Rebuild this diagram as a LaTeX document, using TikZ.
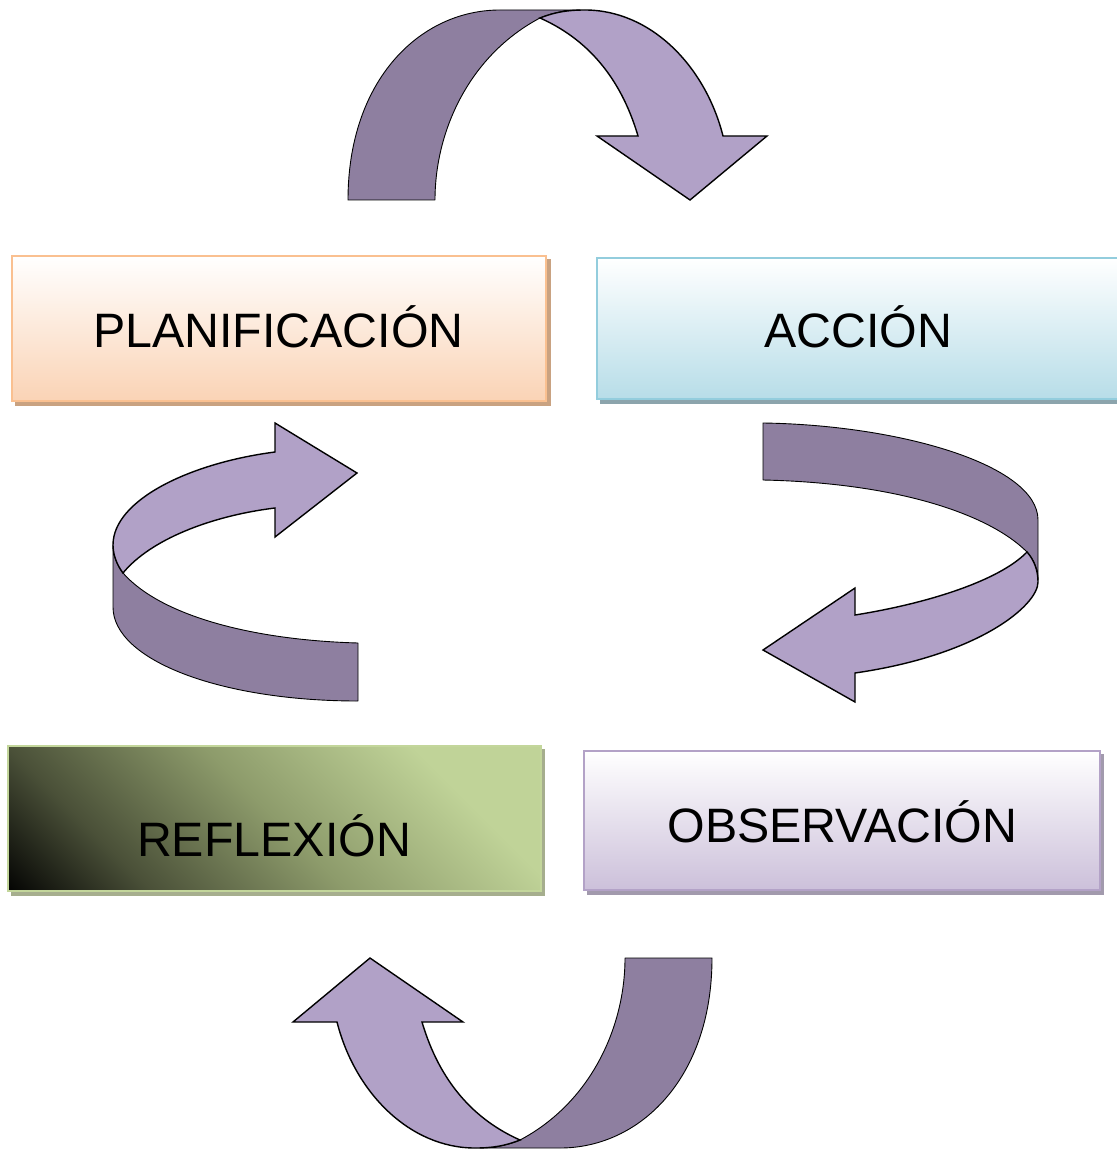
\documentclass[tikz,border=0pt]{standalone}
\usepackage{fontspec}
\setmainfont{Liberation Sans}
\definecolor{arrdark}{HTML}{8E7FA0}
\definecolor{arrlight}{HTML}{B1A1C7}
\definecolor{plborder}{HTML}{FAC090}
\definecolor{plfill}{HTML}{FAD3B5}
\definecolor{plshadow}{HTML}{C9A281}
\definecolor{acborder}{HTML}{93CDDD}
\definecolor{acfill}{HTML}{B7DDE8}
\definecolor{acshadow}{HTML}{8CA4AC}
\definecolor{obborder}{HTML}{B3A2C7}
\definecolor{obfill}{HTML}{CCC0DA}
\definecolor{obshadow}{HTML}{A29AAD}
\definecolor{rfborder}{HTML}{C3D69B}
\definecolor{rfA}{HTML}{4A5038}
\definecolor{rfB}{HTML}{8D9B6B}
\definecolor{rfC}{HTML}{C0D398}
\definecolor{rfshadow}{HTML}{A6AE8E}
\pgfdeclareverticalshading{reflexshade}{100bp}{color(0bp)=(black); color(27bp)=(black); color(37bp)=(rfA); color(50bp)=(rfB); color(64bp)=(rfC); color(100bp)=(rfC)}
\tikzset{
  darkband/.style={fill=arrdark, draw=black, line width=0.9pt, line join=round},
  lightband/.style={fill=arrlight, draw=black, line width=1.4pt, line join=miter},
  boxbase/.style={rectangle, inner sep=0pt, line width=2pt},
  lbl/.style={font=\fontsize{48.3pt}{58pt}\selectfont, inner sep=0pt, anchor=base, text=black},
  halfturn/.pic={
    \path[darkband] (348,200) .. controls (348,80) and (420,10) .. (500,10) -- (580,10)
      .. controls (568,10) and (555,12) .. (540,18)
      .. controls (470,55) and (435,130) .. (435,200) -- cycle;
    \path[lightband] (540,18) .. controls (555,12) and (568,10) .. (585,10)
      .. controls (650,10) and (705,65) .. (723,136) -- (767,136) -- (690,200)
      -- (597,136) -- (638,136) .. controls (620,75) and (585,38) .. (540,18) -- cycle;
  }
}
\begin{document}
\begin{tikzpicture}[x=1pt,y=-1pt]
\fill[white] (0,0) rectangle (1116,1150);
\useasboundingbox (0,0) rectangle (1116,1150);

% top and bottom half-turn arrows
\pic at (0,0) {halfturn};
\pic[rotate=180] at (1060,1158) {halfturn};

% left arrow
\path[darkband] (113,545) -- (113,607) .. controls (113,660) and (220,701) .. (358,701)
  -- (358,643) .. controls (250,640) and (160,615) .. (123,573)
  .. controls (117,565) and (113,555) .. (113,545) -- cycle;
\path[lightband] (275,452) .. controls (190,463) and (113,500) .. (113,545)
  .. controls (113,555) and (117,565) .. (123,573)
  .. controls (150,540) and (210,516) .. (275,508)
  -- (275,537) -- (357,473) -- (275,423) -- cycle;

% right arrow
\path[darkband] (763,423) .. controls (900,425) and (1038,465) .. (1038,520) -- (1038,580)
  .. controls (1038,570) and (1034,560) .. (1027,552)
  .. controls (990,515) and (900,483) .. (763,480) -- cycle;
\path[lightband] (1027,552) .. controls (1034,560) and (1038,570) .. (1038,582)
  .. controls (1038,605) and (980,655) .. (855,673)
  -- (855,702) -- (763,650) -- (855,588) -- (855,615)
  .. controls (930,603) and (1000,580) .. (1027,552) -- cycle;

% shadows
\fill[plshadow] (15,259) rectangle (551,406);
\fill[acshadow] (600,261) rectangle (1130,404);
\fill[rfshadow] (11,749) rectangle (545,896);
\fill[obshadow] (587,754) rectangle (1104,895);

% boxes
\node[boxbase, draw=plborder, top color=white, bottom color=plfill,
      minimum width=534pt, minimum height=145pt] (planbox) at (279,328.5) {};
\node[boxbase, draw=acborder, top color=white, bottom color=acfill,
      minimum width=528pt, minimum height=141pt] (accbox) at (861,328.5) {};
\node[boxbase, draw=rfborder,
      path picture={\shade[shading=reflexshade, shading angle=-45]
        ([shift={(-267.5,-267.5)}]path picture bounding box.center) rectangle ++(535,535);},
      minimum width=533pt, minimum height=145pt] (refbox) at (274.5,818.5) {};
\node[boxbase, draw=obborder, top color=white, bottom color=obfill,
      minimum width=516pt, minimum height=139pt] (obsbox) at (842,820.5) {};

% labels
\node[lbl] (plantxt) at (278.5,347) {PLANIFICACIÓN};
\node[lbl] (acctxt) at (858,347) {ACCIÓN};
\node[lbl] (reftxt) at (274,856) {REFLEXIÓN};
\node[lbl] (obstxt) at (842.5,842) {OBSERVACIÓN};
\end{tikzpicture}
\end{document}
